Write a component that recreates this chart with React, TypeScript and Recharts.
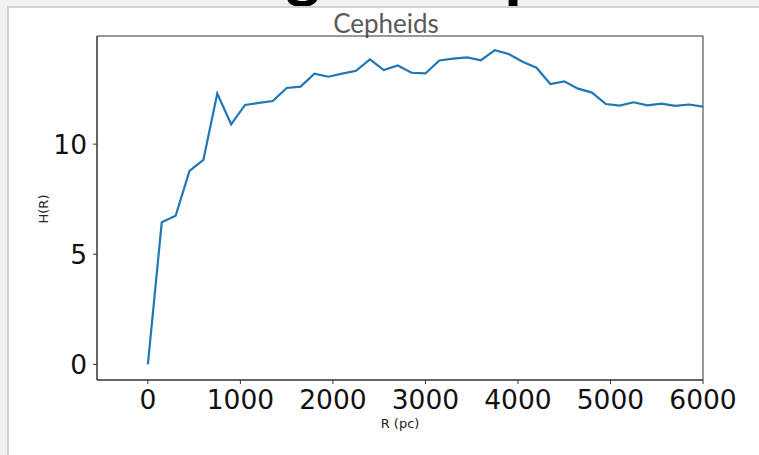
import React from "react";
import { LineChart, Line, XAxis, YAxis, ReferenceArea } from "recharts";

// Galactocentric radius bins (pc)
const radiusPc = [
  0, 150, 300, 450, 600, 750, 900, 1050, 1200, 1350, 1500, 1650, 1800, 1950,
  2100, 2250, 2400, 2550, 2700, 2850, 3000, 3150, 3300, 3450, 3600, 3750, 3900,
  4050, 4200, 4350, 4500, 4650, 4800, 4950, 5100, 5250, 5400, 5550, 5700, 5850,
  6000,
];

// H(R) for the Cepheid sample
const hValues = [
  0, 6.45, 6.75, 8.78, 9.29, 12.3, 10.9, 11.78, 11.87, 11.96, 12.55, 12.61,
  13.2, 13.06, 13.2, 13.33, 13.85, 13.36, 13.57, 13.24, 13.21, 13.8, 13.88,
  13.94, 13.81, 14.27, 14.09, 13.74, 13.47, 12.73, 12.85, 12.52, 12.34, 11.82,
  11.75, 11.9, 11.76, 11.84, 11.74, 11.8, 11.7,
];

const xTicks = [0, 1000, 2000, 3000, 4000, 5000, 6000];
const yTicks = [0, 5, 10];
const xDomain: [number, number] = [-550, 6000];
const yDomain: [number, number] = [-0.71, 14.91];

const data = radiusPc.map((r, i) => ({ r, h: hValues[i] }));

const W = 759;
const H = 455;
const axisColor = "#333";
const tickFont = { fontFamily: "DejaVu Sans", fontSize: 26.5, fill: "#111" };
const labelFont = "DejaVu Sans";
const Y_AXIS_W = 80;
const X_AXIS_H = 60;

export default function App() {
  return (
    <div
      style={{
        position: "absolute",
        left: 0,
        top: 0,
        width: W,
        height: H,
        overflow: "hidden",
        background: "#f1f1f1",
      }}
    >
      {/* descenders of the slide heading above the panel */}
      <span
        style={{
          position: "absolute",
          left: 286,
          top: -61,
          fontFamily: "Lato",
          fontWeight: 900,
          fontSize: 64,
          lineHeight: "64px",
          color: "#000",
        }}
      >
        g
      </span>
      <span
        style={{
          position: "absolute",
          left: 505,
          top: -60,
          fontFamily: "Lato",
          fontWeight: 900,
          fontSize: 64,
          lineHeight: "64px",
          color: "#000",
        }}
      >
        p
      </span>
      <div
        style={{
          position: "absolute",
          left: 7,
          top: 6,
          width: W,
          height: H,
          background: "#fff",
          borderLeft: "2px solid #d3d3d3",
          borderTop: "2px solid #d3d3d3",
        }}
      />
      <div style={{ position: "absolute", left: 0, top: 0 }}>
        <LineChart
          width={W}
          height={H}
          data={data}
          margin={{ top: 36, right: 56, bottom: 75 - X_AXIS_H, left: 97 - Y_AXIS_W }}
        >
          <text
            x={386}
            y={33}
            textAnchor="middle"
            fontFamily="Lato"
            fontSize={26}
            fill="#5a5a5a"
          >
            Cepheids
          </text>
          <XAxis
            dataKey="r"
            type="number"
            domain={xDomain}
            ticks={xTicks}
            allowDataOverflow
            height={X_AXIS_H}
            tickSize={4}
            tickMargin={6}
            tick={tickFont}
            axisLine={{ stroke: axisColor }}
            tickLine={{ stroke: axisColor }}
            interval={0}
            label={{
              value: "R (pc)",
              content: ({ viewBox }: any) => (
                <text
                  x={viewBox.x + viewBox.width / 2}
                  y={viewBox.y + 48}
                  textAnchor="middle"
                  fontFamily={labelFont}
                  fontSize={13}
                  fill="#222"
                >
                  R (pc)
                </text>
              ),
            }}
          />
          <YAxis
            dataKey="h"
            type="number"
            domain={yDomain}
            ticks={yTicks}
            allowDataOverflow
            width={Y_AXIS_W}
            tickSize={4}
            tickMargin={6}
            tick={tickFont}
            axisLine={{ stroke: axisColor }}
            tickLine={{ stroke: axisColor }}
            interval={0}
            label={{
              value: "H(R)",
              content: ({ viewBox }: any) => {
                const cx = viewBox.x + viewBox.width - 54;
                const cy = viewBox.y + viewBox.height / 2 + 1;
                return (
                  <text
                    x={cx}
                    y={cy}
                    transform={`rotate(-90 ${cx} ${cy})`}
                    textAnchor="middle"
                    dominantBaseline="central"
                    fontFamily={labelFont}
                    fontSize={13}
                    fill="#222"
                  >
                    H(R)
                  </text>
                );
              },
            }}
          />
          <ReferenceArea
            x1={xDomain[0]}
            x2={xDomain[1]}
            y1={yDomain[0]}
            y2={yDomain[1]}
            fill="none"
            stroke={axisColor}
            strokeWidth={1}
          />
          <Line
            type="linear"
            dataKey="h"
            stroke="#1f77b4"
            strokeWidth={2.2}
            dot={false}
            isAnimationActive={false}
          />
        </LineChart>
      </div>
    </div>
  );
}
